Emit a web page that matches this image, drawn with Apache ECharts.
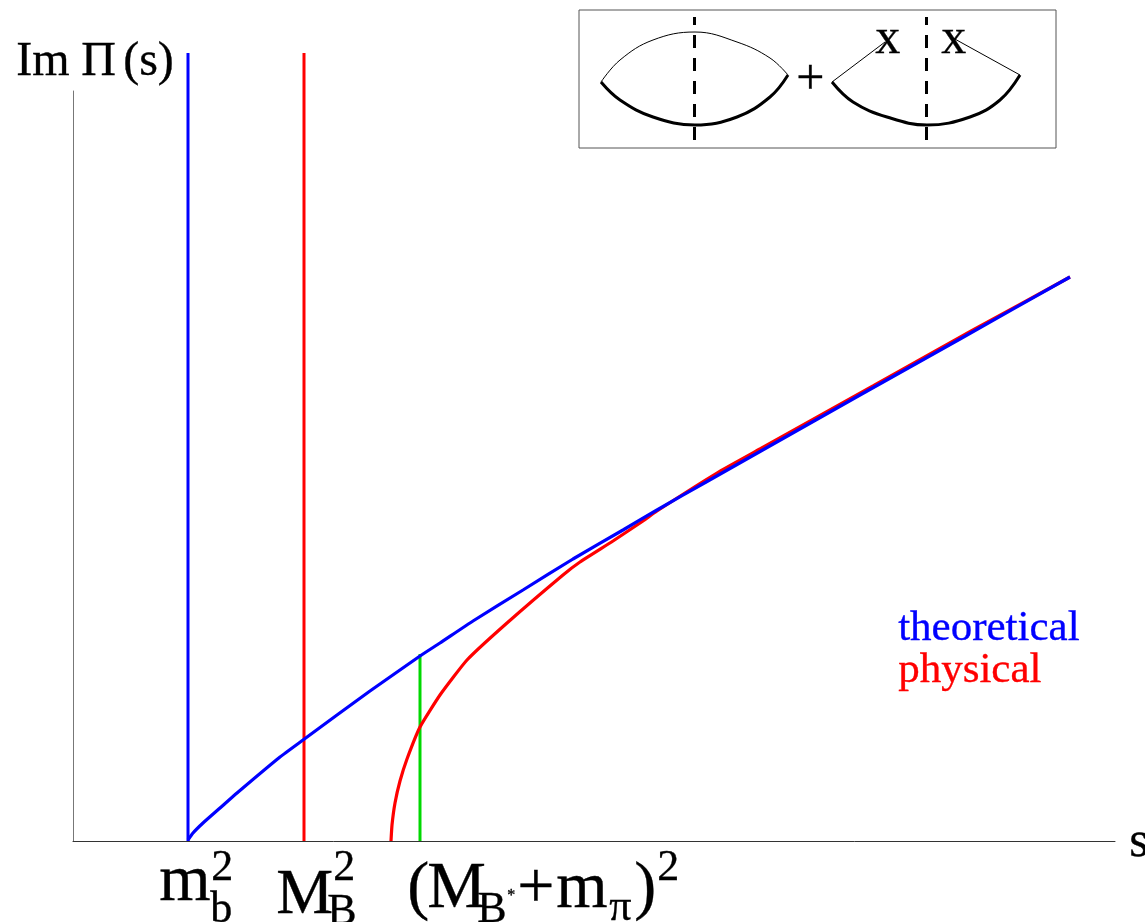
<!DOCTYPE html>
<html><head><meta charset="utf-8">
<style>html,body{margin:0;padding:0;background:#fff;overflow:hidden}#c{width:1145px;height:922px}</style>
<script src="https://cdn.jsdelivr.net/npm/echarts@6/dist/echarts.min.js"></script></head>
<body><div id="c"></div>
<script>
// Main plot values (s, Im Pi) in arbitrary axis units
const theoretical = [[115,1],[120,8],[130,18],[147,33],[164,48],[207,84],[230,101],[264,126],[297,150],[347,185],[367,198],[400,220],[450,251],[500,282],[550,311],[584,331],[634,359.5],[687,389.5],[787,446],[887,502],[997,564]];
const physical = [[318,0],[319,16],[322,38],[327,60],[334,82],[347,114],[367,146],[394,181],[434,218],[490,266],[507,279],[540,300],[570,320],[584,330],[644,368],[687,392],[800,455],[900,511],[997,564]];
const poleQuark = [[115,0],[115,788]];
const poleHadron = [[231,0],[231,788]];
const thresholdLine = [[347,0],[347,187]];
// Inset diagram values
const lensTop = [[22,66],[41,88],[74,108],[116,116],[158,106],[191,90],[209,73]];
const lensBottom = [[22,66],[41,48],[74,31],[116,23],[158,31],[191,51],[209,73]];
const cutA = [[115.5,8],[115.5,131]];
const secondTopL = [[253,66],[306,106]];
const secondTopR = [[374,110],[441,73]];
const secondBottom = [[253,66],[274,46],[308,31],[348,23],[391,31],[421,48],[441,73]];
const cutB = [[347.5,8],[347.5,131]];

const serif = '"Liberation Serif","Times New Roman",serif';
function t(text,x,base,size,color){
  const c=color||'#000';
  return {type:'text',left:x,top:Math.round(base-0.77*size),silent:true,
    style:{text:text,fill:c,stroke:c,lineWidth:0.35,font:size+'px '+serif}};
}
function line(data,color,width,extra,xi){
  return {type:'line',data:data,symbol:'none',clip:false,silent:true,animation:false,
    xAxisIndex:xi||0,yAxisIndex:xi||0,lineStyle:Object.assign({color:color,width:width},extra||{})};
}
function curve(data,width){
  const s=line(data,'#000',width,null,1); s.smooth=0.4; return s;
}
const chart=echarts.init(document.getElementById('c'),null,{renderer:'canvas'});
chart.setOption({
  animation:false,
  backgroundColor:'#fff',
  grid:[
    {left:73,top:91,width:1042,height:750,show:false},
    {left:579,top:10,width:477,height:138,show:true,borderColor:'#555',borderWidth:1,backgroundColor:'transparent'}
  ],
  xAxis:[
    {type:'value',gridIndex:0,min:0,max:1042,axisLine:{show:true,onZero:false,lineStyle:{color:'#333',width:1}},axisTick:{show:false},axisLabel:{show:false},splitLine:{show:false}},
    {type:'value',gridIndex:1,min:0,max:477,show:false,splitLine:{show:false}}
  ],
  yAxis:[
    {type:'value',gridIndex:0,min:0,max:750,axisLine:{show:true,onZero:false,lineStyle:{color:'#777',width:1}},axisTick:{show:false},axisLabel:{show:false},splitLine:{show:false}},
    {type:'value',gridIndex:1,min:0,max:138,show:false,splitLine:{show:false}}
  ],
  series:[
    Object.assign(line(physical,'#ff0000',3.2),{smooth:0.15,z:2}),
    Object.assign(line(theoretical,'#0000ff',3.2),{smooth:0.15,z:3}),
    Object.assign(line(poleQuark,'#0000ff',3),{z:3}),
    Object.assign(line(poleHadron,'#ff0000',3),{z:1}),
    Object.assign(line(thresholdLine,'#00d800',3),{z:1}),
    curve(lensTop,1),
    curve(lensBottom,3),
    line(cutA,'#000',3,{type:[13,10]},1),
    line(secondTopL,'#000',1,null,1),
    line(secondTopR,'#000',1,null,1),
    curve(secondBottom,3),
    line(cutB,'#000',3,{type:[13,10]},1)
  ],
  graphic:[
    t('Im',16,75,48), t('\u03a0',81,75,48), t('(s)',123,75,48),
    t('s',1129,856,50),
    t('m',159,900,66), t('2',211,880,44), t('b',210,922,44),
    t('M',276,913,64), t('B',327,924,44), t('2',333,880,44),
    t('(',407,907,66), t('M',427,907,66), t('B',477,922,44), t('*',507,900,16),
    t('+',517,907,66), t('m',556,907,66), t('\u03c0',609,920,44), t(')',634,907,66), t('2',657,880,44),
    t('theoretical',898,640,43,'#0000ff'), t('physical',898,682,43,'#ff0000'),
    t('x',875,53,50), t('x',941,53,50), t('+',796,94,50)
  ]
});
</script></body></html>
